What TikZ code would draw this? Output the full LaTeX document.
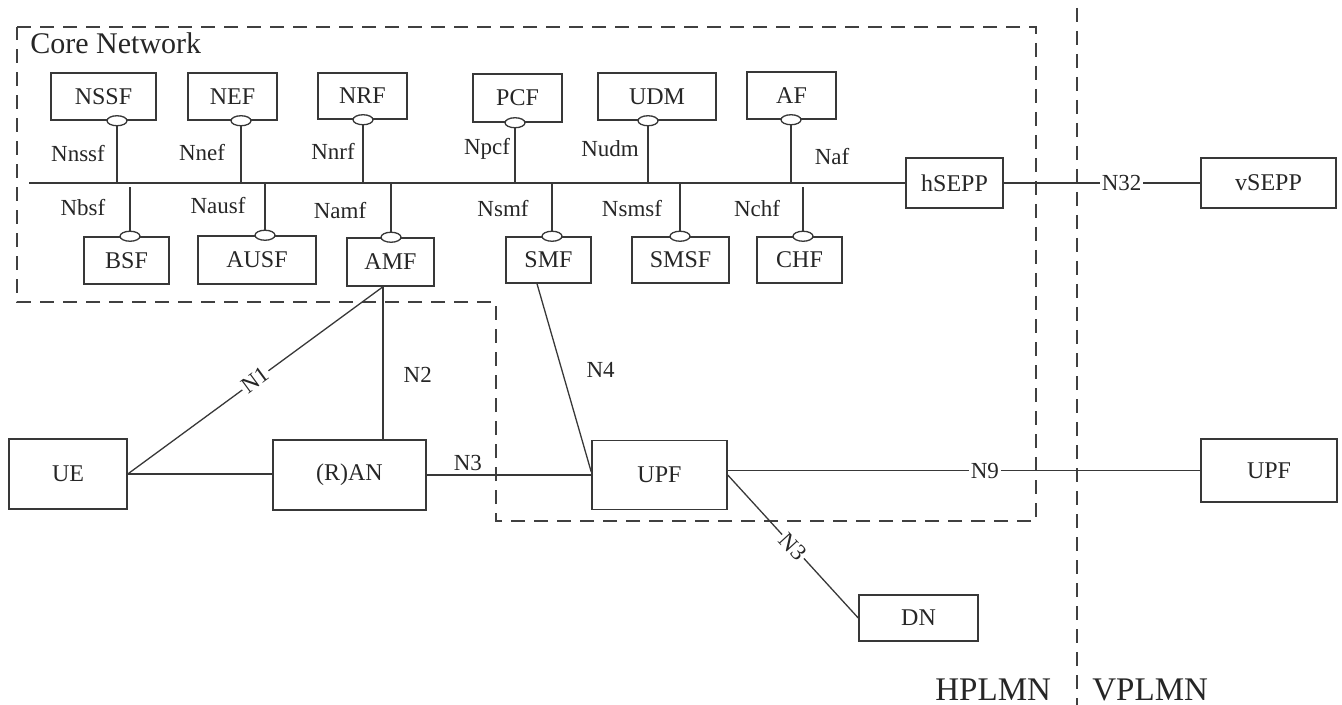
\documentclass[tikz,border=0pt]{standalone}
\usepackage{fontspec}
\setmainfont{Liberation Serif}
\usetikzlibrary{shapes.geometric,calc}
\begin{document}
\begin{tikzpicture}[x=0.5pt,y=-0.5pt,
  ln/.style={draw=black!78, line width=0.65pt},
  box/.style 2 args={rectangle, draw=black!78, line width=0.75pt, inner sep=0pt,
    minimum width={#1*0.5pt}, minimum height={#2*0.5pt},
    font=\fontsize{12}{14}\selectfont, text=black!85},
  oval/.style={ellipse, draw=black!78, line width=0.65pt, fill=white,
    minimum width=10pt, minimum height=5pt, inner sep=0pt},
  lbl/.style={font=\fontsize{11.5}{13}\selectfont, text=black!85, inner sep=1pt},
  region/.style={draw=black!75, line width=1pt, dash pattern=on 7pt off 4.5pt},
  big/.style={font=\fontsize{16.5}{18}\selectfont, text=black!85, inner sep=0pt, anchor=base west}]
\useasboundingbox (0,0) rectangle (1342,705);

% regions
\draw[region] (17,27) -- (1036,27) -- (1036,521) -- (496,521) -- (496,302) -- (17,302) -- cycle;
\draw[region] (1077,8) -- (1077,705);
\node[font=\fontsize{15}{17}\selectfont, text=black!85, anchor=base west, inner sep=0pt] (cn) at (30,54) {Core Network};

% top NFs
\node[box={105}{47}] (NSSF) at (103.5,96.5) {NSSF};
\node[box={89}{47}]  (NEF)  at (232.5,96.5) {NEF};
\node[box={89}{46}]  (NRF)  at (362.5,96) {NRF};
\node[box={89}{48}]  (PCF)  at (517.5,98) {PCF};
\node[box={118}{47}] (UDM)  at (657,96.5) {UDM};
\node[box={89}{47}]  (AF)   at (791.5,95.5) {AF};
% bottom NFs
\node[box={85}{47}]  (BSF)  at (126.5,260.5) {BSF};
\node[box={118}{48}] (AUSF) at (257,260) {AUSF};
\node[box={87}{48}]  (AMF)  at (390.5,262) {AMF};
\node[box={85}{46}]  (SMF)  at (548.5,260) {SMF};
\node[box={97}{46}]  (SMSF) at (680.5,260) {SMSF};
\node[box={85}{46}]  (CHF)  at (799.5,260) {CHF};
% SEPPs
\node[box={97}{50}]  (hSEPP) at (954.5,183) {hSEPP};
\node[box={135}{50}] (vSEPP) at (1268.5,183) {vSEPP};
% access / user plane
\node[box={118}{70}] (UE)   at (68,474) {UE};
\node[box={153}{70}] (RAN)  at (349.5,475) {(R)AN};
\node[box={135}{69}] (UPF)  at (659.5,475) {UPF};
\node[box={136}{63}] (UPF2) at (1269,470.5) {UPF};
\node[box={119}{46}] (DN)   at (918.5,618) {DN};

% bus
\coordinate (busL) at (29,183);
\draw[ln] (busL) -- (hSEPP.west);

% service interfaces (top)
\draw[ln] (NSSF.south -| 117,0) -- (busL -| 117,0);
\draw[ln] (NEF.south -| 241,0) -- (busL -| 241,0);
\draw[ln] (NRF.south -| 363,0) -- (busL -| 363,0);
\draw[ln] (PCF.south -| 515,0) -- (busL -| 515,0);
\draw[ln] (UDM.south -| 648,0) -- (busL -| 648,0);
\draw[ln] (AF.south -| 791,0) -- (busL -| 791,0);
% service interfaces (bottom)
\draw[ln] (BSF.north -| 130,0) -- ($(busL -| 130,0)+(0,4)$);
\draw[ln] (AUSF.north -| 265,0) -- (busL -| 265,0);
\draw[ln] (AMF.north -| 391,0) -- (busL -| 391,0);
\draw[ln] (SMF.north -| 552,0) -- (busL -| 552,0);
\draw[ln] (SMSF.north -| 680,0) -- (busL -| 680,0);
\draw[ln] (CHF.north -| 803,0) -- ($(busL -| 803,0)+(0,4)$);

% ovals
\node[oval] (oNSSF) at (NSSF.south -| 117,0) {};
\node[oval] (oNEF)  at (NEF.south -| 241,0) {};
\node[oval] (oNRF)  at (NRF.south -| 363,0) {};
\node[oval] (oPCF)  at (PCF.south -| 515,0) {};
\node[oval] (oUDM)  at (UDM.south -| 648,0) {};
\node[oval] (oAF)   at (AF.south -| 791,0) {};
\node[oval] (oBSF)  at (BSF.north -| 130,0) {};
\node[oval] (oAUSF) at (AUSF.north -| 265,0) {};
\node[oval] (oAMF)  at (AMF.north -| 391,0) {};
\node[oval] (oSMF)  at (SMF.north -| 552,0) {};
\node[oval] (oSMSF) at (SMSF.north -| 680,0) {};
\node[oval] (oCHF)  at (CHF.north -| 803,0) {};

% service interface labels
\node[lbl] (lNnssf) at (78,154) {Nnssf};
\node[lbl] (lNnef)  at (202,153) {Nnef};
\node[lbl] (lNnrf)  at (333,151) {Nnrf};
\node[lbl] (lNpcf)  at (487,149) {Npcf};
\node[lbl] (lNudm)  at (610,149) {Nudm};
\node[lbl] (lNaf)   at (832,157) {Naf};
\node[lbl] (lNbsf)  at (83,208) {Nbsf};
\node[lbl] (lNausf) at (218,206) {Nausf};
\node[lbl] (lNamf)  at (340,211) {Namf};
\node[lbl] (lNsmf)  at (503,209) {Nsmf};
\node[lbl] (lNsmsf) at (632,209) {Nsmsf};
\node[lbl] (lNchf)  at (757,209) {Nchf};

% N32
\draw[ln] (hSEPP) -- node[lbl, pos=0.6, fill=white]{N32} (vSEPP);

% reference points
\draw[ln] (UE.east) -- node[lbl, sloped, pos=0.5, fill=white]{N1} ([xshift=-3.75pt]AMF.south);
\draw[ln] ([xshift=-3.75pt]AMF.south) -- node[lbl, pos=0.58, right=9pt]{N2} ([xshift=-3.75pt]AMF.south |- RAN.north);
\draw[ln] (UE.east) -- (UE.east -| RAN.west);
\draw[ln] (RAN) -- node[lbl, pos=0.25, above=1pt]{N3} (UPF);
\draw[ln] ([xshift=-5.75pt]SMF.south) -- node[lbl, pos=0.46, right=11pt]{N4} ([yshift=1.5pt]UPF.west);
\draw[ln] (UPF.east |- UPF2.west) -- node[lbl, pos=0.544, fill=white]{N9} (UPF2.west);
\draw[ln] (UPF.east) -- node[lbl, sloped, pos=0.5, fill=white]{N3} (DN.west);

% PLMN labels
\node[big] (hp) at (935,700) {HPLMN};
\node[big] (vp) at (1092,700) {VPLMN};
\end{tikzpicture}
\end{document}
